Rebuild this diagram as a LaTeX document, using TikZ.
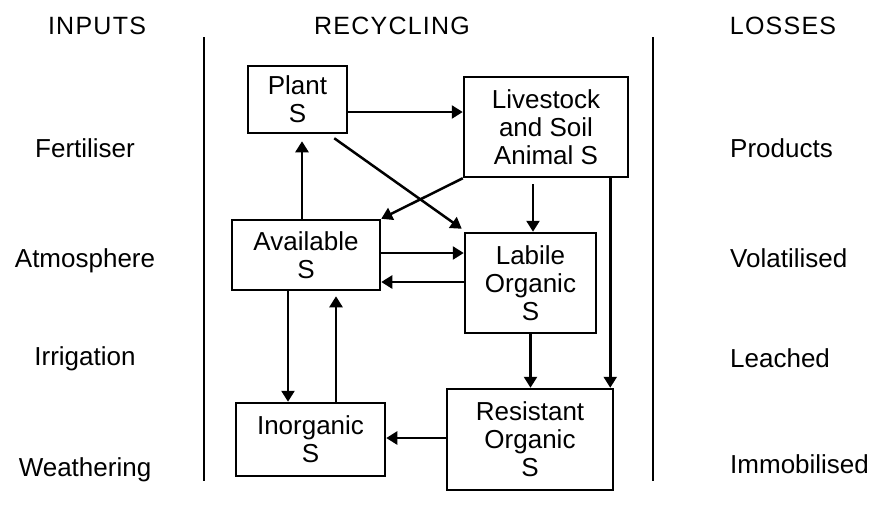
\documentclass[tikz,border=0pt]{standalone}
\usepackage{fontspec}
\setmainfont{Liberation Sans}
\usepackage{tikz}
\usetikzlibrary{calc,arrows.meta}
\tikzset{every picture/.append style={font=\fontsize{26}{28}\selectfont}}
\tikzset{
  pool/.style={draw,line width=2.5pt,align=center,inner sep=0pt},
  flow/.style={line width=2.5pt,-{Triangle[length=11pt,width=13pt]}},
  head/.style={anchor=base,inner sep=0pt,font=\fontsize{25}{27}\selectfont\addfontfeature{LetterSpace=5}},
  source/.style={anchor=base,inner sep=0pt},
  sink/.style={anchor=base west,inner sep=0pt},
}

\begin{document}
\begin{tikzpicture}[x=1pt,y=-1pt]
    \useasboundingbox (0,0) rectangle (877,507);
    % column heads and dividers
    \node[head] (inputs) at (97,34) {INPUTS};
    \node[head] (recyc) at (392,34) {RECYCLING};
    \node[head] (losses) at (783,34) {LOSSES};
    \draw[line width=2.5pt] (204,37) -- (204,481);
    \draw[line width=2.5pt] (653,37) -- (653,481);
    % inputs and losses
    \node[source] (fert) at (85,157) {Fertiliser};
    \node[source] (atmos) at (85,267) {Atmosphere};
    \node[source] (irrig) at (85,365) {Irrigation};
    \node[source] (weath) at (85,476) {Weathering};
    \node[sink] (prod) at (730,157) {Products};
    \node[sink] (volat) at (730,267) {Volatilised};
    \node[sink] (leach) at (730,367) {Leached};
    \node[sink] (immob) at (730,473) {Immobilised};
    % S pools
    \node[pool,minimum width=99pt,minimum height=67pt] (plant) at (297.5,99.5) {Plant\\S};
    \node[pool,minimum width=164pt,minimum height=100pt] (stock) at (546,127) {Livestock\\and Soil\\Animal S};
    \node[pool,minimum width=148pt,minimum height=70pt] (avail) at (306,255) {Available\\S};
    \node[pool,minimum width=131pt,minimum height=100pt] (labile) at (530.5,283) {Labile\\Organic\\S};
    \node[pool,minimum width=149pt,minimum height=73pt] (inorg) at (310.5,439.5) {Inorganic\\S};
    \node[pool,minimum width=166pt,minimum height=101pt] (resist) at (530,439.5) {Resistant\\Organic\\S};
    % transfers
    \draw[flow] ($(plant.east)+(0,12.5)$) -- ($(plant.east -| stock.west)+(0,12.5)$);
    \draw[flow,shorten >=7pt] ($(avail.north)+(-4,0)$) -- ($(plant.south -| avail.north)+(-4,0)$);
    \draw[flow] ($(plant.south east)+(-14,4)$) -- ($(labile.north west)+(-2,-3)$);
    \draw[flow] (stock.south west) -- (avail.north east);
    \draw[flow] ($(labile.north |- stock.south)+(2.5,6)$) -- ($(labile.north)+(2.5,0)$);
    \draw[flow] ($(resist.north east |- stock.south)+(-4,0)$) -- ($(resist.north east)+(-4,0)$);
    \draw[flow] ($(avail.east)+(0,-2)$) -- ($(avail.east -| labile.west)+(0,-2)$);
    \draw[flow] ($(labile.west)+(0,-1)$) -- ($(labile.west -| avail.east)+(0,-1)$);
    \draw[flow] ($(avail.south)+(-18,0)$) -- ($(inorg.north -| avail.south)+(-18,0)$);
    \draw[flow,shorten >=5pt] ($(inorg.north)+(25.5,0)$) -- ($(avail.south -| inorg.north)+(25.5,0)$);
    \draw[flow] (labile.south) -- (labile.south |- resist.north);
    \draw[flow] ($(resist.west)+(0,-1.5)$) -- ($(resist.west -| inorg.east)+(0,-1.5)$);
  \end{tikzpicture}
\end{document}
